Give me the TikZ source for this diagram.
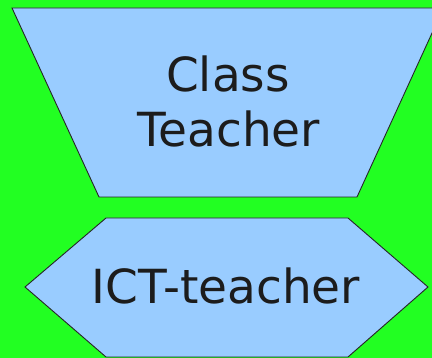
\documentclass[tikz,border=0pt]{standalone}
\usepackage{fontspec}
\setmainfont{DejaVu Sans}
\definecolor{bggreen}{HTML}{22FF22}
\definecolor{shapeblue}{HTML}{99CCFF}
\definecolor{txt}{HTML}{1C1C1C}
\tikzset{
  shapebox/.style={fill=shapeblue, draw=black!85, line width=0.9pt, line join=miter},
  label/.style={inner sep=0pt, text=txt, font=\fontsize{47}{55}\selectfont, anchor=base}
}
\begin{document}
\begin{tikzpicture}[x=1pt,y=-1pt]
\useasboundingbox[fill=bggreen] (0,0) rectangle (432,358);
\clip (0,0) rectangle (432,358);
% trapezoid
\draw[shapebox] (12,8) -- (443.5,8) -- (357,197) -- (99,197) -- cycle;
% hexagon
\draw[shapebox] (106,218) -- (348,218) -- (428,287) -- (348,357) -- (106,357) -- (25,287) -- cycle;
\node[label] (class) at (228,92) {Class};
\node[label] (teacher) at (229,147) {Teacher};
\node[label] (ict) at (226,304) {ICT-teacher};
\end{tikzpicture}
\end{document}
